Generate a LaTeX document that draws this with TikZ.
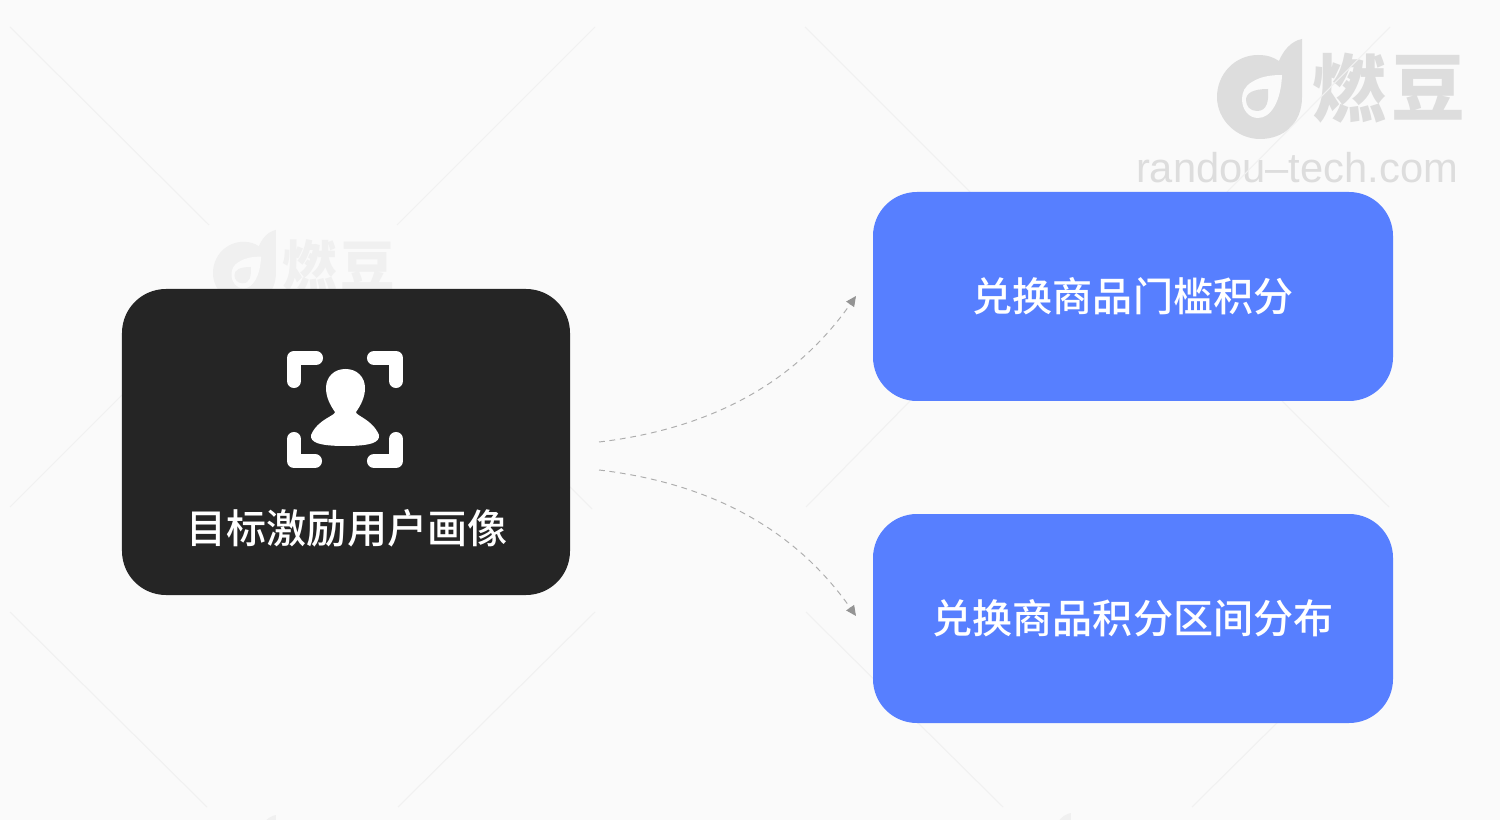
\documentclass[tikz,border=0pt]{standalone}
\usepackage{fontspec}
\setmainfont{Liberation Sans}
\newfontfamily\cjk{Noto Sans CJK SC}
\newfontfamily\cjkmedium{Noto Sans CJK SC Medium}
\usepackage{tikz}
\usetikzlibrary{ % tikz packages
    positioning,
    arrows.meta
}
\definecolor{pagebg}{HTML}{FAFAFA}
\definecolor{darkbox}{HTML}{252525}
\definecolor{bluebox}{HTML}{577FFF}
\definecolor{markgrey}{HTML}{DDDDDD}
\definecolor{markfaint}{HTML}{F0F0F0}
\definecolor{hairgrey}{HTML}{F1F1F1}
\tikzset{
    panel/.style={
        rectangle,rounded corners=8.8mm,text=white,align=center,inner sep=0pt,
        font=\cjkmedium\fontsize{22.8}{26}\selectfont
    },
    topicbox/.style={panel,fill=bluebox,minimum width=104mm,minimum height=41.8mm},
    profilebox/.style={panel,fill=darkbox,minimum width=89.6mm,minimum height=61.2mm},
    flow/.style={
        draw=black!32,line width=0.55pt,dash pattern=on 3.3pt off 2.7pt,
        -{Triangle[length=5.8pt,width=5.4pt,color=black!42]}
    },
    hair/.style={draw=hairgrey,line width=0.6pt},
    bracket/.style={draw=white,line width=8pt,line cap=round,line join=round},
    logomark/.pic={
        \fill[pic actions] (85,0) .. controls (74,2) and (66,12) .. (62,22)
            .. controls (56,18) and (50,16) .. (41,16)
            .. controls (18,16) and (0,35) .. (0,58)
            .. controls (0,81) and (20,100) .. (43,100)
            .. controls (66,100) and (85,85) .. (85,58) -- cycle;
        \fill[pagebg] (65,36) .. controls (52,36) and (43,38) .. (35,43)
            .. controls (28,47) and (25,53) .. (25,60)
            .. controls (25,71) and (32,79) .. (41,79)
            .. controls (54,79) and (64,62) .. (65,36) -- cycle;
        \fill[pic actions] (51,50) .. controls (52,62) and (50,72) .. (40,72)
            .. controls (33,72) and (29,67) .. (29,61)
            .. controls (29,54) and (36,50) .. (51,50) -- cycle;
    }
}

\begin{document}
\begin{tikzpicture}[x=0.2mm,y=-0.2mm,on grid]
        \useasboundingbox (0,0) rectangle (1500,820);
        \fill[pagebg] (0,0) rectangle (1500,820);

        % watermark
        \begin{scope}
            \clip (0,0) rectangle (1500,820);
            \pic[fill=markgrey] at (1217,39) {logomark};
            \node[text=markgrey,font=\cjk\bfseries\fontsize{42}{42}\selectfont] (logoa) at (1349,88) {燃};
            \node[text=markgrey,font=\cjk\bfseries\fontsize{42}{42}\selectfont] (logob) at (1428,88) {豆};
            \node[text=markgrey,font=\fontsize{23.7}{26}\selectfont] (site) at (1297,168) {randou–tech.com};

            \pic[fill=markfaint,scale=0.74] at (213,230) {logomark};
            \node[text=markfaint,font=\cjk\bfseries\fontsize{31}{31}\selectfont] (logoc) at (310,266) {燃};
            \node[text=markfaint,font=\cjk\bfseries\fontsize{31}{31}\selectfont] (logod) at (368,266) {豆};
            \pic[fill=markfaint,scale=0.74] at (213,815) {logomark};
            \pic[fill=markfaint,scale=0.74] at (1008,813) {logomark};

            \foreach \xa/\ya/\xb/\yb in {10/27/209/225, 595/27/397/225, 805/27/970/192, 1390/27/1227/192,
                    122/395/10/507, 570/487/592/509, 910/401/806/507, 1282/401/1389/507,
                    10/612/207/807, 595/612/398/807, 806/612/1003/807, 1389/612/1192/807}
                \draw[hair] (\xa,\ya) -- (\xb,\yb);
        \end{scope}

        \node[profilebox] (profile) at (346,442) {};
        \node[topicbox] (threshold) at (1133,296.5) {\raisebox{-1pt}{兑换商品门槛积分}};
        \node[topicbox,below=64.4mm of threshold] (distribution) {\raisebox{-1pt}{兑换商品积分区间分布}};
        \node[panel] (profilelabel) at (347,528) {目标激励用户画像};

        % icon
        \draw[bracket] (294,381) -- (294,358) -- (316,358);
        \draw[bracket] (374,358) -- (396,358) -- (396,381);
        \draw[bracket] (294,439) -- (294,461) -- (315,461);
        \draw[bracket] (374,461) -- (396,461) -- (396,439);
        \fill[white] (335,412) .. controls (330,405) and (326,397) .. (326,388)
            .. controls (326,377) and (334,369) .. (345.5,369)
            .. controls (357,369) and (365,377) .. (365,388)
            .. controls (365,397) and (361,405) .. (356,412)
            .. controls (356,416) and (372,419) .. (379,435)
            .. controls (380,442) and (372,446) .. (345,446)
            .. controls (318,446) and (310,442) .. (311,435)
            .. controls (318,419) and (335,416) .. (335,412) -- cycle;

        \coordinate (upstart) at (599,442);
        \coordinate (upend) at (856,296);
        \coordinate (downstart) at (599,470);
        \coordinate (downend) at (856,616);

        \draw[flow] (upstart) .. controls (700,430) and (790,390) .. (upend);
        \draw[flow] (downstart) .. controls (700,482) and (790,522) .. (downend);
    \end{tikzpicture}
\end{document}
